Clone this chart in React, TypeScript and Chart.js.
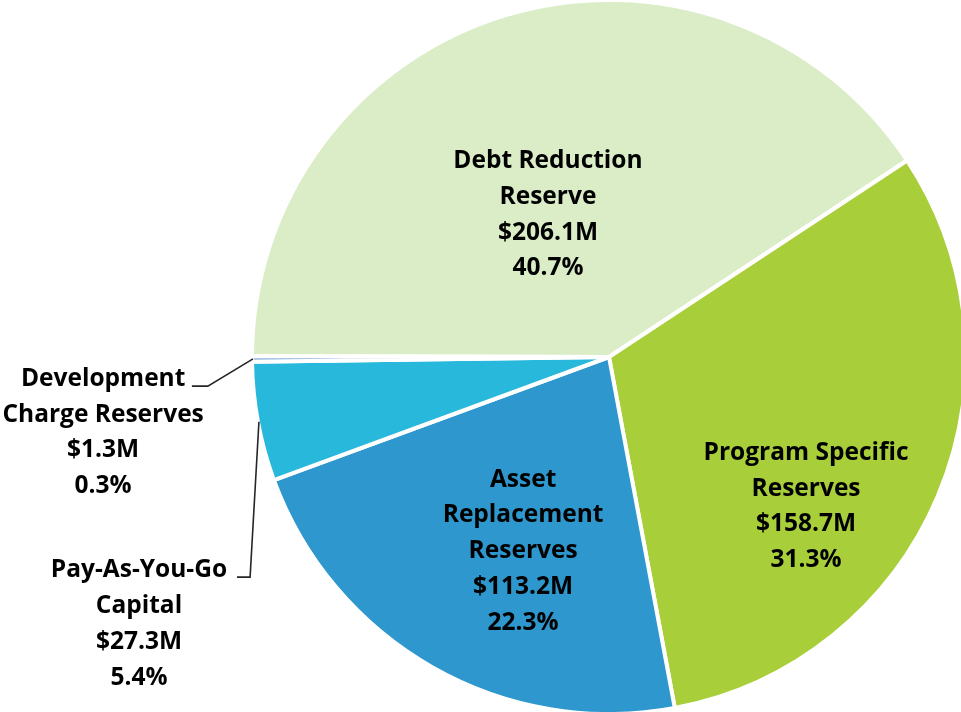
import React, { useEffect, useRef } from "react";
import { Chart, registerables } from "chart.js";

Chart.register(...registerables);

const CATEGORIES = [
  "Debt Reduction Reserve",
  "Program Specific Reserves",
  "Asset Replacement Reserves",
  "Pay-As-You-Go Capital",
  "Development Charge Reserves",
];
const VALUES_M = [206.1, 158.7, 113.2, 27.3, 1.3];
const PERCENT_LABELS = ["40.7%", "31.3%", "22.3%", "5.4%", "0.3%"];
const LABEL_LINES = [
  ["Debt Reduction", "Reserve"],
  ["Program Specific", "Reserves"],
  ["Asset", "Replacement", "Reserves"],
  ["Pay-As-You-Go", "Capital"],
  ["Development", "Charge Reserves"],
];
const COLORS = ["#DAEDC6", "#A8CE3A", "#2E97CD", "#27B8DC", "#8DB3E2"];

// label centre offsets, in units of the pie radius, relative to the pie centre
const LABEL_POS: [number, number][] = [
  [-0.172, -0.401],
  [0.555, 0.421],
  [-0.242, 0.547],
  [-1.324, 0.752],
  [-1.425, 0.213],
];
// leader lines (elbow, end) for outside labels, radius units
const LEADERS: Record<number, [number, number][]> = {
  3: [
    [-1.011, 0.62],
    [-1.048, 0.62],
  ],
  4: [
    [-1.13, 0.082],
    [-1.175, 0.082],
  ],
};

const labelPlugin = {
  id: "sliceLabels",
  afterDatasetsDraw(chart: any) {
    const ctx = chart.ctx;
    const meta = chart.getDatasetMeta(0);
    const arcs = meta.data;
    if (!arcs.length) return;
    const a0 = arcs[0];
    const cx = a0.x;
    const cy = a0.y;
    const R = a0.outerRadius - 2;
    ctx.save();
    // leader lines
    ctx.strokeStyle = "#262626";
    ctx.lineWidth = 1.6;
    Object.keys(LEADERS).forEach((k) => {
      const i = Number(k);
      const arc = arcs[i];
      const mid = (arc.startAngle + arc.endAngle) / 2;
      const sx = cx + Math.cos(mid) * (R + 1);
      const sy = cy + Math.sin(mid) * (R + 1);
      ctx.beginPath();
      ctx.moveTo(sx, sy);
      LEADERS[i].forEach(([dx, dy]) => ctx.lineTo(cx + dx * R, cy + dy * R));
      ctx.stroke();
    });
    // text
    ctx.fillStyle = "#000";
    ctx.font = "bold 24.5px 'Open Sans'";
    ctx.textAlign = "center";
    ctx.textBaseline = "middle";
    const lh = 35.8;
    LABEL_LINES.forEach((lines, i) => {
      const all = [...lines, "$" + VALUES_M[i].toFixed(1) + "M", PERCENT_LABELS[i]];
      const x = cx + LABEL_POS[i][0] * R;
      const y = cy + LABEL_POS[i][1] * R;
      const top = y - ((all.length - 1) * lh) / 2;
      all.forEach((t, j) => ctx.fillText(t, x, top + j * lh));
    });
    ctx.restore();
  },
};

export default function App() {
  const ref = useRef<HTMLCanvasElement>(null);
  useEffect(() => {
    const chart = new Chart(ref.current!, {
      type: "pie",
      data: {
        labels: CATEGORIES,
        datasets: [
          {
            data: VALUES_M,
            backgroundColor: COLORS,
            borderColor: "#ffffff",
            borderWidth: 4,
          },
        ],
      },
      options: {
        responsive: false,
        animation: false,
        rotation: 270.15,
        radius: 357,
        layout: { padding: { left: 257, top: 2, right: 0, bottom: 0 } },
        plugins: {
          legend: { display: false },
          tooltip: { enabled: false },
        },
      },
      plugins: [labelPlugin],
    });
    return () => chart.destroy();
  }, []);
  return (
    <div style={{ position: "fixed", left: 0, top: 0, width: 961, height: 712, background: "#fff" }}>
      <canvas ref={ref} width={961} height={712} style={{ display: "block" }} />
    </div>
  );
}
